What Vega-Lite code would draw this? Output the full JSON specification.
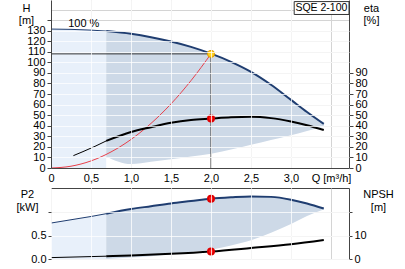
{
  "$schema": "https://vega.github.io/schema/vega-lite/v6.json",
  "padding": {"left": 15, "top": 0, "right": 0, "bottom": 0},
  "background": "white",
  "config": {
    "font": "Liberation Sans",
    "view": {"stroke": null},
    "text": {"font": "Liberation Sans"},
    "axis": {
      "labelFont": "Liberation Sans", "labelFontSize": 11, "labelColor": "#000",
      "titleFont": "Liberation Sans", "titleFontSize": 11, "titleFontWeight": "normal", "titleColor": "#000",
      "domainColor": "#444", "tickColor": "#444", "gridColor": "#d4d4d4", "gridOpacity": 1
    }
  },
  "datasets": {
    "hthin": [{"Q":0,"H":131.5},{"Q":0.25,"H":131.2},{"Q":0.5,"H":130.5},{"Q":0.69,"H":129.6}],
    "hthick": [{"Q":0.69,"H":129.6},{"Q":1.0,"H":127},{"Q":1.25,"H":123.8},{"Q":1.5,"H":119.7},{"Q":1.75,"H":114.6},{"Q":2.0,"H":108.2},{"Q":2.25,"H":100.5},{"Q":2.5,"H":91},{"Q":2.75,"H":78.8},{"Q":3.0,"H":64.5},{"Q":3.2,"H":53},{"Q":3.41,"H":41.7}],
    "dark": [{"Q":0.69,"H":129.6,"L":10.7},{"Q":1.0,"H":127,"L":3.8},{"Q":1.25,"H":123.8,"L":6},{"Q":1.5,"H":119.7,"L":8.2},{"Q":1.75,"H":114.6,"L":10.8},{"Q":2.0,"H":108.2,"L":13.5},{"Q":2.25,"H":100.5,"L":17.5},{"Q":2.5,"H":91,"L":22},{"Q":2.75,"H":78.8,"L":26.5},{"Q":3.0,"H":64.5,"L":31},{"Q":3.2,"H":53,"L":35},{"Q":3.41,"H":41.7,"L":39}],
    "system": [{"Q":0,"H":0},{"Q":0.25,"H":1.7},{"Q":0.5,"H":6.7},{"Q":0.75,"H":15.2},{"Q":1.0,"H":27},{"Q":1.25,"H":42.2},{"Q":1.5,"H":60.7},{"Q":1.75,"H":82.7},{"Q":2.0,"H":108}],
    "duty": [{"Q":2.0,"H":108,"eta":46.8,"P2":1.29,"NPSH":3.2}],
    "etathin": [{"Q":0.28,"eta":11.7},{"Q":0.4,"eta":15.5},{"Q":0.55,"eta":20.5},{"Q":0.69,"eta":25.6}],
    "etathick": [{"Q":0.69,"eta":25.6},{"Q":1.0,"eta":34},{"Q":1.25,"eta":38.6},{"Q":1.5,"eta":42.8},{"Q":1.75,"eta":45.5},{"Q":2.0,"eta":46.8},{"Q":2.25,"eta":48},{"Q":2.5,"eta":48.5},{"Q":2.75,"eta":47.2},{"Q":3.0,"eta":44},{"Q":3.2,"eta":40.5},{"Q":3.41,"eta":36}],
    "p2thin": [{"Q":0,"P2":0.77},{"Q":0.25,"P2":0.84},{"Q":0.5,"P2":0.91},{"Q":0.69,"P2":0.97}],
    "p2thick": [{"Q":0.69,"P2":0.97,"L":0},{"Q":1.0,"P2":1.07,"L":0.03},{"Q":1.25,"P2":1.13,"L":0.06},{"Q":1.5,"P2":1.19,"L":0.1},{"Q":1.75,"P2":1.24,"L":0.15},{"Q":2.0,"P2":1.29,"L":0.2},{"Q":2.25,"P2":1.32,"L":0.29},{"Q":2.5,"P2":1.34,"L":0.4},{"Q":2.75,"P2":1.33,"L":0.56},{"Q":3.0,"P2":1.27,"L":0.75},{"Q":3.2,"P2":1.19,"L":0.92},{"Q":3.41,"P2":1.08,"L":1.06}],
    "npshthin": [{"Q":0,"NPSH":0.6},{"Q":0.35,"NPSH":0.9},{"Q":0.69,"NPSH":1.2}],
    "npshthick": [{"Q":0.69,"NPSH":1.2},{"Q":1.0,"NPSH":1.5},{"Q":1.5,"NPSH":2.2},{"Q":2.0,"NPSH":3.2},{"Q":2.5,"NPSH":4.7},{"Q":3.0,"NPSH":6.3},{"Q":3.41,"NPSH":8.1}],
    "notes": [{"Q":0.41,"H":136.5,"label":"100 %"}],
    "box": [{"Q1":3.04,"Q2":3.725,"H1":145.3,"H2":157.5,"Qc":3.38,"Hc":151.4,"label":"SQE 2-100"}]
  },
  "spacing": 20,
  "bounds": "flush",
  "vconcat": [
    {
      "width": 298, "height": 168,
      "view": {"stroke": null},
      "resolve": {"axis": {"x": "independent", "y": "independent"}},
      "layer": [
        {
          "data": {"name": "hthin"},
          "mark": {"type": "area", "color": "#e8f0fa", "interpolate": "monotone"},
          "encoding": {
            "x": {"field": "Q", "type": "quantitative", "scale": {"domain": [0, 3.725], "nice": false, "zero": false},
              "axis": {"orient": "bottom", "values": [0,0.5,1,1.5,2,2.5,3,3.5], "title": null, "grid": true, "gridColor": "white",
                "gridOpacity": {"condition": {"test": "datum.value>3.4", "value": 0}, "value": 0.75},
                "zindex": 1, "labelOverlap": false, "labelFlush": false, "tickSize": 0, "labelPadding": 4,
                "labelExpr": "datum.value==0 ? '0' : (datum.value==3.5 ? 'Q [m³/h]' : replace(format(datum.value,'.1f'),'.',','))"}},
            "y": {"field": "H", "type": "quantitative", "scale": {"domain": [0, 159], "nice": false, "zero": false},
              "axis": {"orient": "left", "values": [0,10,20,30,40,50,60,70,80,90,100,110,120,130,140],
                "labelExpr": "datum.value<=130 ? datum.label : ''", "labelOverlap": false, "grid": true, "gridColor": "white",
                "gridOpacity": {"condition": {"test": "datum.value>130", "value": 0}, "value": 0.75}, "zindex": 1,
                "title": ["H", "[m]"], "titleAngle": 0, "titleX": -25, "titleY": 2, "titleBaseline": "top", "titleAlign": "center", "titleLineHeight": 12,
                "tickSize": 4, "labelPadding": 2}},
            "y2": {"datum": 0}
          }
        },
        {
          "data": {"name": "dark"},
          "mark": {"type": "area", "color": "#cdd9e7", "interpolate": "monotone"},
          "encoding": {
            "x": {"field": "Q", "type": "quantitative",
              "axis": {"orient": "top", "values": [0,0.5,1,1.5,2,2.5,3,3.5], "title": null, "grid": true, "zindex": 0, "labels": false, "ticks": false, "domain": false}},
            "y": {"field": "H", "type": "quantitative", "axis": null},
            "y2": {"field": "L"}
          }
        },
        {
          "data": {"name": "hthin"},
          "mark": {"type": "line", "color": "#1f3d70", "strokeWidth": 1, "interpolate": "monotone"},
          "encoding": {"x": {"field": "Q", "type": "quantitative", "axis": null}, "y": {"field": "H", "type": "quantitative", "axis": null}}
        },
        {
          "data": {"name": "hthick"},
          "mark": {"type": "line", "color": "#1f3d70", "strokeWidth": 2, "interpolate": "monotone"},
          "encoding": {"x": {"field": "Q", "type": "quantitative", "axis": null}, "y": {"field": "H", "type": "quantitative", "axis": null}}
        },
        {
          "data": {"name": "system"},
          "mark": {"type": "line", "color": "#e8404a", "strokeWidth": 1, "interpolate": "monotone"},
          "encoding": {"x": {"field": "Q", "type": "quantitative", "axis": null}, "y": {"field": "H", "type": "quantitative", "axis": null}}
        },
        {
          "data": {"name": "duty"},
          "mark": {"type": "rule", "color": "#333", "strokeWidth": 1},
          "encoding": {"x": {"field": "Q", "type": "quantitative", "axis": null}, "y": {"field": "H", "type": "quantitative", "axis": null}, "y2": {"datum": 0}}
        },
        {
          "data": {"name": "duty"},
          "mark": {"type": "rule", "color": "#333", "strokeWidth": 1},
          "encoding": {"x": {"field": "Q", "type": "quantitative", "axis": null}, "x2": {"datum": 0}, "y": {"field": "H", "type": "quantitative", "axis": null}}
        },
        {
          "data": {"name": "etathin"},
          "mark": {"type": "line", "color": "#000", "strokeWidth": 1, "interpolate": "monotone"},
          "encoding": {
            "x": {"field": "Q", "type": "quantitative", "axis": null},
            "y": {"field": "eta", "type": "quantitative",
              "axis": {"orient": "right", "values": [0,10,20,30,40,50,60,70,80,90,100,110,120,130,140,150], "grid": true, "zindex": 0, "labelOverlap": false,
                "labelExpr": "datum.value<=90 ? datum.label : ''",
                "tickOpacity": {"condition": {"test": "datum.value>90", "value": 0}, "value": 1},
                "title": ["eta", "[%]"], "titleAngle": 0, "titleX": 22, "titleY": 2, "titleBaseline": "top", "titleAlign": "center", "titleLineHeight": 12,
                "tickSize": 4, "labelPadding": 2}}
          }
        },
        {
          "data": {"name": "etathick"},
          "mark": {"type": "line", "color": "#000", "strokeWidth": 2, "interpolate": "monotone"},
          "encoding": {"x": {"field": "Q", "type": "quantitative", "axis": null}, "y": {"field": "eta", "type": "quantitative", "axis": null}}
        },
        {
          "data": {"name": "duty"},
          "mark": {"type": "point", "filled": true, "fill": "#ff1a1a", "stroke": "#e00000", "size": 36, "opacity": 1},
          "encoding": {"x": {"field": "Q", "type": "quantitative", "axis": null}, "y": {"field": "eta", "type": "quantitative", "axis": null}}
        },
        {
          "data": {"name": "duty"},
          "mark": {"type": "point", "filled": true, "fill": "#ffd21f", "stroke": "#e09a00", "strokeWidth": 1, "size": 50, "opacity": 1},
          "encoding": {"x": {"field": "Q", "type": "quantitative", "axis": null}, "y": {"field": "H", "type": "quantitative", "axis": null}}
        },
        {
          "data": {"name": "notes"},
          "mark": {"type": "text", "font": "Liberation Sans", "fontSize": 11, "color": "#000", "baseline": "middle", "align": "center"},
          "encoding": {"x": {"field": "Q", "type": "quantitative", "axis": null}, "y": {"field": "H", "type": "quantitative", "axis": null}, "text": {"field": "label"}}
        },
        {
          "data": {"name": "box"},
          "mark": {"type": "rect", "fill": "white", "stroke": "#333", "strokeWidth": 1},
          "encoding": {"x": {"field": "Q1", "type": "quantitative", "axis": null}, "x2": {"field": "Q2"}, "y": {"field": "H1", "type": "quantitative", "axis": null}, "y2": {"field": "H2"}}
        },
        {
          "data": {"name": "box"},
          "mark": {"type": "text", "font": "Liberation Sans", "fontSize": 10.5, "color": "#000", "baseline": "middle", "align": "center"},
          "encoding": {"x": {"field": "Qc", "type": "quantitative", "axis": null}, "y": {"field": "Hc", "type": "quantitative", "axis": null}, "text": {"field": "label"}}
        }
      ]
    },
    {
      "width": 298, "height": 71,
      "view": {"stroke": "#444"},
      "resolve": {"scale": {"y": "independent"}, "axis": {"x": "independent"}},
      "layer": [
        {
          "data": {"name": "p2thin"},
          "mark": {"type": "area", "color": "#e8f0fa", "interpolate": "monotone"},
          "encoding": {
            "x": {"field": "Q", "type": "quantitative", "scale": {"domain": [0, 3.725], "nice": false, "zero": false},
              "axis": {"orient": "bottom", "values": [0,0.5,1,1.5,2,2.5,3,3.5], "title": null, "grid": true, "gridColor": "white",
                "gridOpacity": {"condition": {"test": "datum.value>3.4", "value": 0}, "value": 0.75},
                "zindex": 1, "labels": false, "ticks": false, "domain": false}},
            "y": {"field": "P2", "type": "quantitative", "scale": {"domain": [0, 1.52], "nice": false, "zero": false},
              "axis": {"orient": "left", "values": [0, 0.5, 1], "format": ".1f", "labelOverlap": false, "grid": true, "gridColor": "white", "gridOpacity": 0.75, "zindex": 1,
                "labelExpr": "datum.value<1 ? datum.label : ''",
                "title": ["P2", "[kW]"], "titleAngle": 0, "titleX": -24, "titleY": 0, "titleBaseline": "top", "titleAlign": "center", "titleLineHeight": 13,
                "tickSize": 3, "labelPadding": 2, "domain": false}},
            "y2": {"datum": 0}
          }
        },
        {
          "data": {"name": "p2thick"},
          "mark": {"type": "area", "color": "#cdd9e7", "interpolate": "monotone"},
          "encoding": {
            "x": {"field": "Q", "type": "quantitative",
              "axis": {"orient": "top", "values": [0,0.5,1,1.5,2,2.5,3,3.5], "title": null, "grid": true, "zindex": 0, "labels": false, "ticks": false, "domain": false}},
            "y": {"field": "P2", "type": "quantitative", "scale": {"domain": [0, 1.52], "nice": false, "zero": false}, "axis": null},
            "y2": {"field": "L"}
          }
        },
        {
          "data": {"name": "p2thin"},
          "mark": {"type": "line", "color": "#1f3d70", "strokeWidth": 1, "interpolate": "monotone"},
          "encoding": {"x": {"field": "Q", "type": "quantitative", "axis": null}, "y": {"field": "P2", "type": "quantitative", "scale": {"domain": [0, 1.52], "nice": false, "zero": false}, "axis": null}}
        },
        {
          "data": {"name": "p2thick"},
          "mark": {"type": "line", "color": "#1f3d70", "strokeWidth": 2, "interpolate": "monotone"},
          "encoding": {"x": {"field": "Q", "type": "quantitative", "axis": null}, "y": {"field": "P2", "type": "quantitative", "scale": {"domain": [0, 1.52], "nice": false, "zero": false}, "axis": null}}
        },
        {
          "data": {"name": "npshthin"},
          "mark": {"type": "line", "color": "#000", "strokeWidth": 1, "interpolate": "monotone"},
          "encoding": {
            "x": {"field": "Q", "type": "quantitative", "axis": null},
            "y": {"field": "NPSH", "type": "quantitative", "scale": {"domain": [0, 30.4], "nice": false, "zero": false},
              "axis": {"orient": "right", "values": [0, 10, 20], "grid": true, "zindex": 0, "labelOverlap": false,
                "labelExpr": "datum.value<20 ? datum.label : ''",
                "title": ["NPSH", "[m]"], "titleAngle": 0, "titleX": 29, "titleY": 0, "titleBaseline": "top", "titleAlign": "center", "titleLineHeight": 13,
                "tickSize": 3, "labelPadding": 2, "domain": false}}
          }
        },
        {
          "data": {"name": "npshthick"},
          "mark": {"type": "line", "color": "#000", "strokeWidth": 2, "interpolate": "monotone"},
          "encoding": {"x": {"field": "Q", "type": "quantitative", "axis": null}, "y": {"field": "NPSH", "type": "quantitative", "scale": {"domain": [0, 30.4], "nice": false, "zero": false}, "axis": null}}
        },
        {
          "data": {"name": "duty"},
          "mark": {"type": "point", "filled": true, "fill": "#ff1a1a", "stroke": "#e00000", "size": 36, "opacity": 1},
          "encoding": {"x": {"field": "Q", "type": "quantitative", "axis": null}, "y": {"field": "P2", "type": "quantitative", "scale": {"domain": [0, 1.52], "nice": false, "zero": false}, "axis": null}}
        },
        {
          "data": {"name": "duty"},
          "mark": {"type": "point", "filled": true, "fill": "#ff1a1a", "stroke": "#e00000", "size": 36, "opacity": 1},
          "encoding": {"x": {"field": "Q", "type": "quantitative", "axis": null}, "y": {"field": "NPSH", "type": "quantitative", "scale": {"domain": [0, 30.4], "nice": false, "zero": false}, "axis": null}}
        }
      ]
    }
  ]
}
